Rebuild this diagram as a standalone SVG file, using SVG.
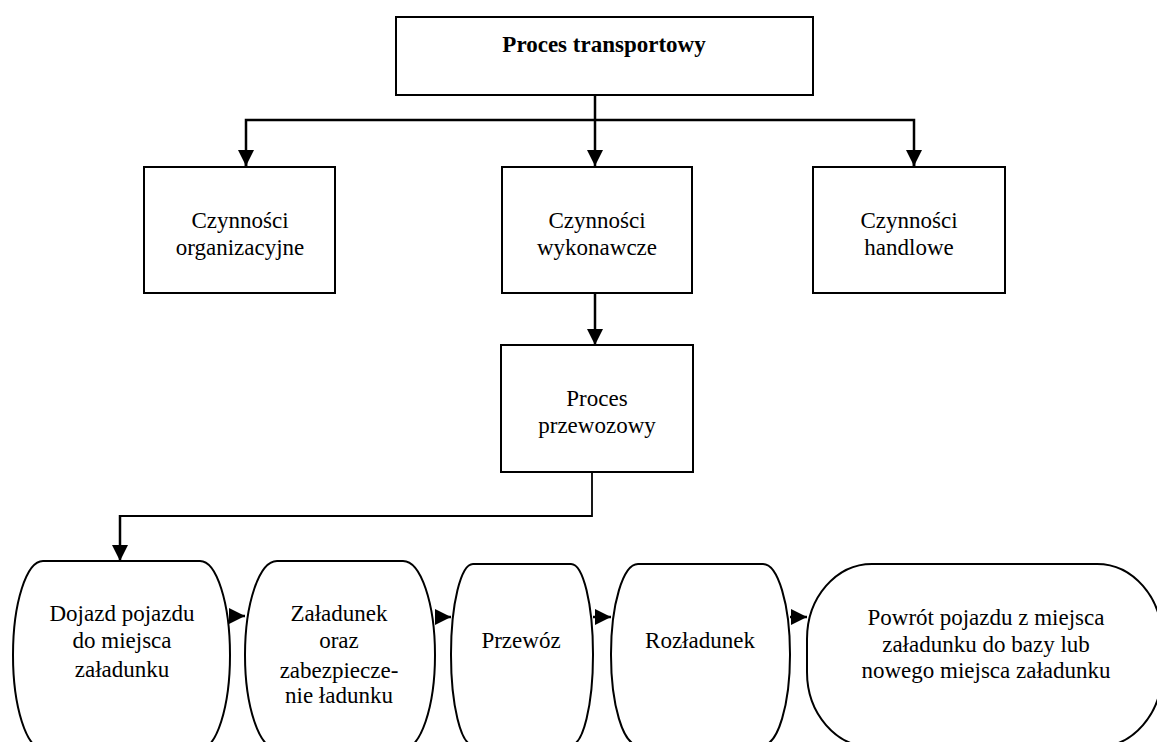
<svg xmlns="http://www.w3.org/2000/svg" width="1157" height="742" viewBox="0 0 1157 742">
<defs>
<style>
.box{fill:#fff;stroke:#000;stroke-width:2}
.t{font-family:'Liberation Serif','DejaVu Serif','Times New Roman',serif;font-size:23px;fill:#000;text-anchor:middle}
.b{font-weight:bold}
.c{fill:none;stroke:#000;stroke-width:2.5}
.c2{fill:none;stroke:#000;stroke-width:1.8}
</style>
<marker id="ah" viewBox="0 0 16 16" refX="16" refY="8" markerWidth="16" markerHeight="16" markerUnits="userSpaceOnUse" orient="auto">
<path d="M0,0 L16,8 L0,16 Z" fill="#000"/>
</marker>
</defs>
<rect width="1157" height="742" fill="#fff"/>
<g id="connectors">
<path class="c" d="M595,95 V166" marker-end="url(#ah)"/>
<path class="c" d="M246,167 V120 H914 V167"/>
<path class="c" d="M246,150 V166" marker-end="url(#ah)"/>
<path class="c" d="M914,150 V166" marker-end="url(#ah)"/>
<path class="c" d="M595,293 V345" marker-end="url(#ah)"/>
<path class="c2" d="M592,472 V516 H120"/>
<path class="c" d="M120,515 V561" marker-end="url(#ah)"/>
<path class="c" d="M229,616 H245" marker-end="url(#ah)"/>
<path class="c" d="M435,617 H451" marker-end="url(#ah)"/>
<path class="c" d="M593,617 H611" marker-end="url(#ah)"/>
<path class="c" d="M790,617 H807" marker-end="url(#ah)"/>
</g>
<g id="n-proces-transportowy">
<rect class="box" x="396" y="17" width="417" height="78"/>
<text class="t b" x="604" y="52" font-family="Liberation Serif, DejaVu Serif, serif">Proces transportowy</text>
</g>
<g id="n-organizacyjne" font-family="Liberation Serif, DejaVu Serif, serif">
<rect class="box" x="144" y="167" width="191" height="126"/>
<text class="t" x="240" y="228">Czynności</text>
<text class="t" x="240" y="255">organizacyjne</text>
</g>
<g id="n-wykonawcze">
<rect class="box" x="502" y="167" width="190" height="126"/>
<text class="t" x="597" y="228">Czynności</text>
<text class="t" x="597" y="255">wykonawcze</text>
</g>
<g id="n-handlowe">
<rect class="box" x="813" y="167" width="192" height="126"/>
<text class="t" x="909" y="228">Czynności</text>
<text class="t" x="909" y="255">handlowe</text>
</g>
<g id="n-przewozowy">
<rect class="box" x="501" y="345" width="192" height="127"/>
<text class="t" x="597" y="406">Proces</text>
<text class="t" x="597" y="433">przewozowy</text>
</g>
<g id="n-dojazd">
<rect class="box" x="13" y="561" width="217" height="188" rx="30" ry="94"/>
<text class="t" x="122" y="621">Dojazd pojazdu</text>
<text class="t" x="122" y="648">do miejsca</text>
<text class="t" x="122" y="677">załadunku</text>
</g>
<g id="n-zaladunek">
<rect class="box" x="245" y="561" width="190" height="188" rx="32" ry="94"/>
<text class="t" x="339" y="621">Załadunek</text>
<text class="t" x="339" y="648">oraz</text>
<text class="t" x="339" y="678">zabezpiecze-</text>
<text class="t" x="339" y="703">nie ładunku</text>
</g>
<g id="n-przewoz">
<rect class="box" x="451" y="564" width="142" height="181" rx="22" ry="90"/>
<text class="t" x="521" y="648">Przewóz</text>
</g>
<g id="n-rozladunek">
<rect class="box" x="611" y="564" width="179" height="181" rx="27" ry="90"/>
<text class="t" x="700" y="648">Rozładunek</text>
</g>
<g id="n-powrot">
<rect class="box" x="807" y="564" width="355" height="183" rx="65" ry="75"/>
<text class="t" x="986" y="625">Powrót pojazdu z miejsca</text>
<text class="t" x="986" y="652">załadunku do bazy lub</text>
<text class="t" x="986" y="678">nowego miejsca załadunku</text>
</g>
</svg>
